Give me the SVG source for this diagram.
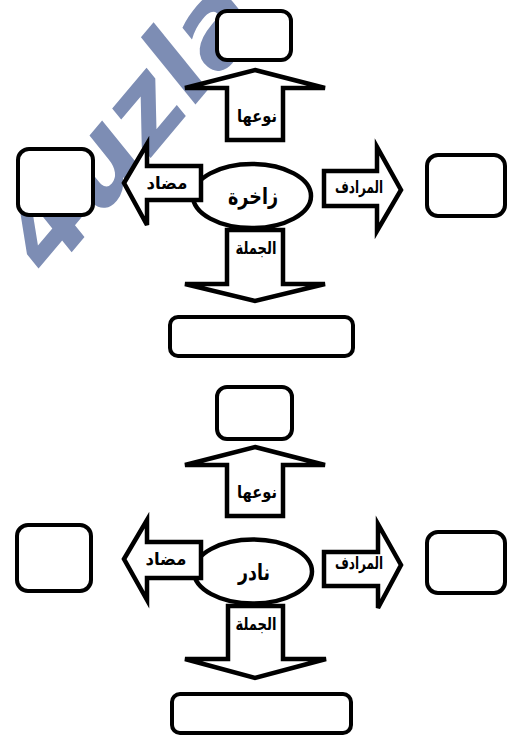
<svg xmlns="http://www.w3.org/2000/svg" width="508" height="737" viewBox="0 0 508 737">
<style>
.box{fill:#fff;stroke:#000;stroke-width:4}
.arr{fill:#fff;stroke:#000;stroke-width:4.5;stroke-linejoin:miter;stroke-miterlimit:4}
.ell{fill:#fff;stroke:#000;stroke-width:4.5}
.lbl{font-family:"DejaVu Sans","Noto Sans",sans-serif;font-weight:bold;font-size:17px;text-anchor:middle;fill:#000}
.word{font-size:22px}
.wm{font-family:"DejaVu Sans",sans-serif;font-weight:bold;font-style:italic;font-size:112px;fill:#7d8db4}
</style>
<rect width="508" height="737" fill="#fff"/>
<g id="watermark">
<text class="wm" transform="translate(50,278) rotate(-50)">4uzla</text>
</g>
<g id="section1">
<g id="center1"><ellipse class="ell" cx="252" cy="196" rx="59" ry="32"/><text class="lbl word" x="253" y="204" textLength="50" lengthAdjust="spacingAndGlyphs">زاخرة</text></g>
<g id="connectors1">
<g id="up1"><path class="arr" d="M255,70 L325,88 L283,88 L283,140 L227,140 L227,88 L185,88 Z"/><text class="lbl" x="257" y="122" textLength="40" lengthAdjust="spacingAndGlyphs">نوعها</text></g>
<g id="left1"><path class="arr" d="M124,183 L147,144 L147,166 L201,166 L201,200 L147,200 L147,225 Z"/><text class="lbl" x="167" y="189" textLength="41" lengthAdjust="spacingAndGlyphs">مضاد</text></g>
<g id="right1"><path class="arr" d="M324,171 L377,171 L377,147 L401,190 L377,231 L377,206 L324,206 Z"/><text class="lbl" x="359" y="193" textLength="48" lengthAdjust="spacingAndGlyphs">المرادف</text></g>
<g id="down1"><path class="arr" d="M227,230 L283,230 L283,284 L325,284 L255,301 L185,284 L227,284 Z"/><text class="lbl" x="256" y="254" textLength="41" lengthAdjust="spacingAndGlyphs">الجملة</text></g>
</g>
<g id="top1"><rect class="box" x="217" y="11" width="74" height="49" rx="10"/></g>
<g id="leftbox1"><rect class="box" x="18" y="149" width="75" height="66" rx="11"/></g>
<g id="rightbox1"><rect class="box" x="427" y="155" width="78" height="61" rx="11"/></g>
<g id="bottom1"><rect class="box" x="170" y="317" width="183" height="39" rx="8"/></g>
</g>
<g id="section2" transform="translate(0,376)">
<g id="center2"><ellipse class="ell" cx="253" cy="195.5" rx="59" ry="32"/><text class="lbl word" x="254" y="204" textLength="32" lengthAdjust="spacingAndGlyphs">نادر</text></g>
<g id="connectors2">
<g id="up2"><path class="arr" d="M255,71 L325,89 L283,89 L283,140 L227,140 L227,89 L185,89 Z"/><text class="lbl" x="257" y="122" textLength="40" lengthAdjust="spacingAndGlyphs">نوعها</text></g>
<g id="left2"><path class="arr" d="M124,183 L147,144 L147,166 L201,166 L201,202 L147,202 L147,224 Z"/><text class="lbl" x="166" y="189" textLength="41" lengthAdjust="spacingAndGlyphs">مضاد</text></g>
<g id="right2"><path class="arr" d="M324,176 L378,176 L378,148 L401,189 L378,232 L378,210 L324,210 Z"/><text class="lbl" x="359" y="193" textLength="48" lengthAdjust="spacingAndGlyphs">المرادف</text></g>
<g id="down2"><path class="arr" d="M228,230 L283,230 L283,283 L326,283 L255,302 L185,283 L228,283 Z"/><text class="lbl" x="256" y="254" textLength="41" lengthAdjust="spacingAndGlyphs">الجملة</text></g>
</g>
<g id="top2"><rect class="box" x="217" y="11" width="75" height="52" rx="10"/></g>
<g id="leftbox2"><rect class="box" x="17" y="149" width="74" height="66" rx="11"/></g>
<g id="rightbox2"><rect class="box" x="427" y="156" width="78" height="61" rx="11"/></g>
<g id="bottom2"><rect class="box" x="172" y="318" width="179" height="39" rx="8"/></g>
</g>
</svg>
